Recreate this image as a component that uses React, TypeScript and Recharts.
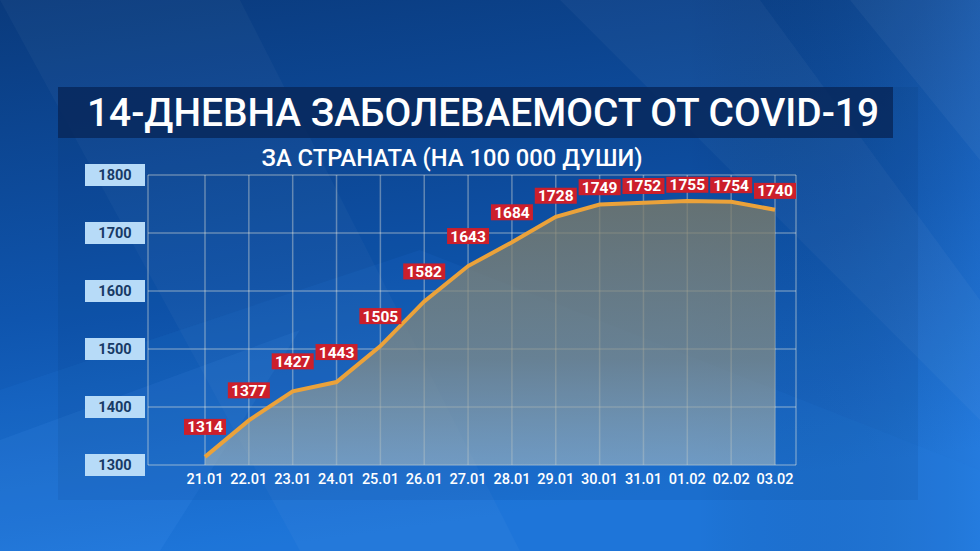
import React from 'react';
import { AreaChart, Area, XAxis, YAxis, CartesianGrid, LabelList } from 'recharts';

const dates = ['21.01', '22.01', '23.01', '24.01', '25.01', '26.01', '27.01', '28.01', '29.01', '30.01', '31.01', '01.02', '02.02', '03.02'];
const values = [1314, 1377, 1427, 1443, 1505, 1582, 1643, 1684, 1728, 1749, 1752, 1755, 1754, 1740];
const yTicks = [1300, 1400, 1500, 1600, 1700, 1800];

const data = dates.map((d, i) => ({ date: d, value: values[i] }));

const FONT = 'Roboto, "Noto Sans", "DejaVu Sans", sans-serif';

const YTick = (props: any) => {
  const { x, y, payload } = props;
  return (
    <g>
      <rect x={x - 60} y={y - 11} width={60} height={22} fill="#b7dbf8" />
      <text x={x - 30} y={y + 5} textAnchor="middle" fill="#173a66" fontSize={14.5} fontWeight={700} fontFamily={FONT}>
        {payload.value}
      </text>
    </g>
  );
};

const XTick = (props: any) => {
  const { x, y, payload } = props;
  return (
    <text x={x} y={y + 11} textAnchor="middle" fill="#ffffff" fontSize={14.5} fontWeight={500} fontFamily={FONT}>
      {payload.value}
    </text>
  );
};

const ValueLabel = (props: any) => {
  const { x, y, value } = props;
  const lift = y < 225 ? Math.max(15, 16 + (y - 200) * 0.3) : 30;
  const cy = y - lift;
  return (
    <g>
      <rect x={x - 21} y={cy - 8} width={42} height={16} fill="#cc1f2b" />
      <text x={x} y={cy + 5.5} textAnchor="middle" fill="#ffffff" fontSize={15.5} fontWeight={700} fontFamily={FONT}>
        {value}
      </text>
    </g>
  );
};

const Background = () => (
  <svg width={980} height={551} style={{ position: 'absolute', left: 0, top: 0 }}>
    <defs>
      <linearGradient id="bg" x1="0" y1="0" x2="0.25" y2="1">
        <stop offset="0" stopColor="#0a3a7c" />
        <stop offset="0.55" stopColor="#0f55ae" />
        <stop offset="1" stopColor="#1d74d8" />
      </linearGradient>
      <linearGradient id="bgr" x1="0" y1="0" x2="1" y2="0">
        <stop offset="0" stopColor="#000000" stopOpacity="0" />
        <stop offset="0.7" stopColor="#000000" stopOpacity="0" />
        <stop offset="1" stopColor="#3a8ff0" stopOpacity="0.25" />
      </linearGradient>
    </defs>
    <rect width={980} height={551} fill="url(#bg)" />
    <rect width={980} height={551} fill="url(#bgr)" />
    <polygon points="0,0 240,0 520,551 300,551" fill="#ffffff" opacity={0.03} />
    <polygon points="560,0 760,0 980,300 980,420" fill="#ffffff" opacity={0.035} />
    <polygon points="0,390 420,250 980,470 980,551 0,551" fill="#2c86ea" opacity={0.12} />
    <polygon points="0,440 300,330 160,551 0,551" fill="#5aa8ff" opacity={0.1} />
    <polygon points="850,0 980,0 980,160" fill="#ffffff" opacity={0.04} />
    <rect x={58} y={87} width={860} height={413} fill="#021c48" opacity={0.07} />
    <rect x={58} y={87} width={835} height={51} fill="#07275a" opacity={0.82} />
    <text x={483} y={126} textAnchor="middle" fill="#ffffff" fontSize={38} fontWeight={500} fontFamily={FONT} textLength={792} lengthAdjust="spacingAndGlyphs">
      14-ДНЕВНА ЗАБОЛЕВАЕМОСТ ОТ COVID-19
    </text>
    <text x={452} y={166} textAnchor="middle" fill="#ffffff" fontSize={24} fontWeight={500} fontFamily={FONT} textLength={381} lengthAdjust="spacingAndGlyphs">
      ЗА СТРАНАТА (НА 100 000 ДУШИ)
    </text>
  </svg>
);

export default function App() {
  return (
    <div style={{ position: 'absolute', left: 0, top: 0, width: 980, height: 551, overflow: 'hidden' }}>
      <Background />
      <div style={{ position: 'absolute', left: 0, top: 0 }}>
        <AreaChart width={980} height={551} data={data} margin={{ top: 175, right: 184, bottom: 56, left: 85 }}>
          <defs>
            <linearGradient id="areaFill" x1="0" y1="0" x2="0" y2="1">
              <stop offset="0" stopColor="#7d7b66" stopOpacity={0.78} />
              <stop offset="0.6" stopColor="#8a8f84" stopOpacity={0.7} />
              <stop offset="1" stopColor="#a7b9bf" stopOpacity={0.6} />
            </linearGradient>
          </defs>
          <Area
            type="linear"
            dataKey="value"
            stroke="#eba23a"
            strokeWidth={4}
            fill="url(#areaFill)"
            fillOpacity={1}
            isAnimationActive={false}
            dot={false}
            activeDot={false}
          >
            <LabelList dataKey="value" content={ValueLabel} />
          </Area>
          <CartesianGrid stroke="#fff6e0" strokeOpacity={0.35} strokeWidth={1.5} />
          <XAxis
            dataKey="date"
            scale="point"
            padding={{ left: 57, right: 21 }}
            axisLine={false}
            tickLine={false}
            height={30}
            tick={XTick}
            interval={0}
          />
          <YAxis
            domain={[1300, 1800]}
            ticks={yTicks}
            width={63}
            axisLine={false}
            tickLine={false}
            tickSize={0}
            tickMargin={3}
            tick={YTick}
            interval={0}
          />
        </AreaChart>
      </div>
    </div>
  );
}
